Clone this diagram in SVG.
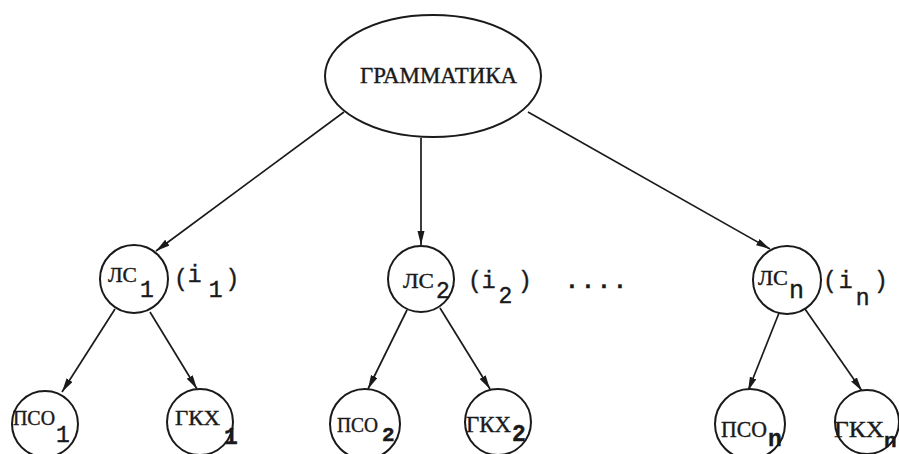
<svg xmlns="http://www.w3.org/2000/svg" width="899" height="454" viewBox="0 0 899 454">
<style>
.n{fill:#fff;stroke:#1a1a1a;stroke-width:2}
.e{stroke:#1a1a1a;stroke-width:1.7;fill:none;marker-end:url(#ah)}
text{font-family:"Liberation Serif","DejaVu Serif",serif;fill:#1a1a1a;font-size:22px;stroke:#1a1a1a;stroke-width:0.4}
.m{font-family:"Liberation Mono","DejaVu Sans Mono",monospace;font-size:23px}
.b{font-weight:bold}
</style>
<defs>
<marker id="ah" markerUnits="userSpaceOnUse" markerWidth="15" markerHeight="8" refX="14" refY="3.5" orient="auto">
<path d="M0,0 L14,3.5 L0,7 z" fill="#1a1a1a"/>
</marker>
</defs>
<rect width="899" height="454" fill="#fff"/>
<g id="edges">
<line class="e" x1="344" y1="112" x2="156" y2="251"/>
<line class="e" x1="421" y1="138" x2="421" y2="245"/>
<line class="e" x1="528" y1="112" x2="770" y2="249"/>
<line class="e" x1="115" y1="309" x2="62" y2="392"/>
<line class="e" x1="150" y1="312" x2="197" y2="389"/>
<line class="e" x1="407" y1="310" x2="368" y2="389"/>
<line class="e" x1="440" y1="308" x2="490" y2="389"/>
<line class="e" x1="779" y1="313" x2="748" y2="391"/>
<line class="e" x1="805" y1="309" x2="862" y2="391"/>
</g>
<g id="grammar">
<ellipse class="n" cx="433" cy="76" rx="108" ry="61"/>
<text x="360" y="83" textLength="157" lengthAdjust="spacingAndGlyphs" style="font-size:24px">ГРАММАТИКА</text>
</g>
<g id="ls1">
<circle class="n" cx="134" cy="279" r="34"/>
<text x="108" y="282" style="font-size:21px"><tspan textLength="29" lengthAdjust="spacingAndGlyphs">ЛС</tspan><tspan class="m" x="140" y="297">1</tspan></text>
<text class="m" x="174" y="286">(<tspan dy="-4">i</tspan><tspan dx="7" dy="15">1</tspan><tspan dx="3" dy="-11">)</tspan></text>
</g>
<g id="ls2">
<circle class="n" cx="421" cy="279" r="33"/>
<text x="403" y="288" style="font-size:22px"><tspan textLength="31" lengthAdjust="spacingAndGlyphs">ЛС</tspan><tspan class="m" x="436" y="298">2</tspan></text>
<text class="m" x="468" y="288">(i<tspan dx="3" dy="15">2</tspan><tspan dx="5.6" dy="-15">)</tspan></text>
</g>
<text id="dots" class="m b" x="565" y="288" style="letter-spacing:2.2px">....</text>
<g id="lsn">
<circle class="n" cx="787" cy="280" r="34"/>
<text x="758" y="285" style="font-size:22px"><tspan textLength="30" lengthAdjust="spacingAndGlyphs">ЛС</tspan><tspan class="m" x="789" y="298" style="font-size:25px">n</tspan></text>
<text class="m" x="823" y="288">(<tspan dx="2">i</tspan><tspan dx="3" dy="17">n</tspan><tspan dx="4.6" dy="-17">)</tspan></text>
</g>
<g id="pso1">
<circle class="n" cx="45" cy="424" r="33"/>
<text x="13" y="425" style="font-size:21px"><tspan textLength="42" lengthAdjust="spacingAndGlyphs">ПСО</tspan><tspan class="m" x="56" y="442">1</tspan></text>
</g>
<g id="gkh1">
<circle class="n" cx="200" cy="422" r="33"/>
<text x="175" y="425" style="font-size:21px"><tspan textLength="45" lengthAdjust="spacingAndGlyphs">ГКХ</tspan><tspan class="m b" x="224" y="444">1</tspan></text>
</g>
<g id="pso2">
<circle class="n" cx="365" cy="424" r="35"/>
<text x="337" y="432" style="font-size:21px"><tspan textLength="41" lengthAdjust="spacingAndGlyphs">ПСО</tspan><tspan class="m b" x="382" y="441" style="font-size:21px">2</tspan></text>
</g>
<g id="gkh2">
<circle class="n" cx="498" cy="422" r="33"/>
<text x="466" y="432" style="font-size:23px"><tspan textLength="45" lengthAdjust="spacingAndGlyphs">ГКХ</tspan><tspan class="m b" x="512" y="441">2</tspan></text>
</g>
<g id="pson">
<circle class="n" cx="750" cy="424" r="35"/>
<text x="721" y="437" style="font-size:23px"><tspan textLength="46" lengthAdjust="spacingAndGlyphs">ПСО</tspan><tspan class="m b" x="768" y="446">n</tspan></text>
</g>
<g id="gkhn">
<circle class="n" cx="867" cy="422" r="32"/>
<text x="834" y="437" style="font-size:23px"><tspan textLength="50" lengthAdjust="spacingAndGlyphs">ГКХ</tspan><tspan class="m b" x="884" y="447" style="font-size:21px">n</tspan></text>
</g>
</svg>
